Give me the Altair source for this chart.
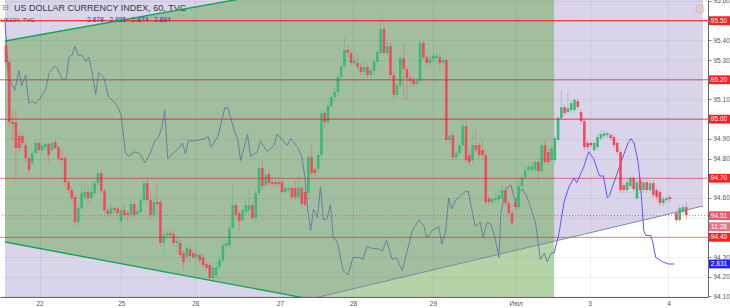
import altair as alt
import pandas as pd

# ---------------- data ----------------
# hourly DXY candles, bar index -> OHLC
OPEN = [95.376, 95.290, 94.985, 94.985, 94.914, 94.914, 94.868, 94.802, 94.777, 94.828,
        94.879, 94.843, 94.858, 94.874, 94.843, 94.884, 94.858, 94.802, 94.802, 94.680,
        94.640, 94.604, 94.477, 94.548, 94.604, 94.630, 94.599, 94.625, 94.675, 94.726,
        94.635, 94.538, 94.518, 94.548, 94.548, 94.482, 94.538, 94.523, 94.513, 94.569,
        94.518, 94.528, 94.589, 94.675, 94.589, 94.513, 94.579, 94.579, 94.371, 94.411,
        94.421, 94.416, 94.371, 94.371, 94.320, 94.299, 94.340, 94.320, 94.299, 94.310,
        94.299, 94.264, 94.259, 94.193, 94.208, 94.249, 94.284, 94.355, 94.360, 94.447,
        94.564, 94.523, 94.487, 94.528, 94.538, 94.564, 94.498, 94.625, 94.752, 94.665,
        94.721, 94.680, 94.680, 94.680, 94.680, 94.630, 94.640, 94.650, 94.650, 94.604,
        94.650, 94.630, 94.625, 94.807, 94.746, 94.746, 94.818, 95.031, 94.985, 95.067,
        95.112, 95.138, 95.214, 95.270, 95.351, 95.336, 95.285, 95.285, 95.265, 95.239,
        95.265, 95.224, 95.244, 95.290, 95.336, 95.458, 95.336, 95.371, 95.224, 95.122,
        95.173, 95.310, 95.254, 95.209, 95.199, 95.178, 95.194, 95.387, 95.315, 95.285,
        95.305, 95.310, 95.315, 95.285, 95.300, 94.894, 94.919, 94.807, 94.828, 94.868,
        94.965, 94.818, 94.792, 94.868, 94.868, 94.843, 94.818, 94.599, 94.579, 94.589,
        94.594, 94.599, 94.640, 94.574, 94.523, 94.579, 94.553, 94.660, 94.706, 94.741,
        94.741, 94.741, 94.782, 94.736, 94.868, 94.833, 94.792, 94.792, 94.894, 95.006,
        95.061, 95.036, 95.046, 95.046, 95.092, 95.036, 94.990, 94.879, 94.879, 94.843,
        94.858, 94.904, 94.914, 94.919, 94.919, 94.909, 94.879, 94.833, 94.665, 94.640,
        94.660, 94.701, 94.599, 94.691, 94.640, 94.680, 94.640, 94.675, 94.640, 94.630,
        94.574, 94.589, 94.604,
        94.523, 94.487, 94.528, 94.553]
HIGH = [95.402, 95.310, 95.046, 95.046, 94.934, 94.929, 94.889, 94.818, 94.843, 94.894,
        94.889, 94.879, 94.889, 94.884, 94.894, 94.899, 94.868, 94.843, 94.813, 94.691,
        94.660, 94.620, 94.564, 94.691, 94.680, 94.650, 94.686, 94.691, 94.741, 94.741,
        94.650, 94.553, 94.564, 94.559, 94.559, 94.553, 94.569, 94.538, 94.589, 94.584,
        94.559, 94.609, 94.691, 94.701, 94.640, 94.609, 94.675, 94.594, 94.437, 94.437,
        94.437, 94.432, 94.406, 94.386, 94.335, 94.366, 94.355, 94.335, 94.330, 94.325,
        94.315, 94.279, 94.274, 94.259, 94.274, 94.305, 94.376, 94.396, 94.462, 94.665,
        94.579, 94.538, 94.564, 94.589, 94.650, 94.579, 94.640, 94.767, 94.792, 94.731,
        94.741, 94.696, 94.691, 94.701, 94.691, 94.665, 94.665, 94.665, 94.691, 94.711,
        94.665, 94.650, 94.823, 94.868, 94.762, 94.833, 95.046, 95.046, 95.097, 95.127,
        95.158, 95.229, 95.290, 95.417, 95.376, 95.351, 95.315, 95.326, 95.285, 95.300,
        95.280, 95.265, 95.305, 95.356, 95.529, 95.503, 95.402, 95.387, 95.239, 95.188,
        95.326, 95.387, 95.270, 95.224, 95.214, 95.209, 95.402, 95.402, 95.331, 95.321,
        95.336, 95.336, 95.331, 95.315, 95.315, 94.934, 94.934, 94.843, 94.884, 95.006,
        95.006, 94.843, 94.945, 94.945, 94.884, 94.894, 94.843, 94.614, 94.609, 94.640,
        94.640, 94.665, 94.655, 94.589, 94.538, 94.599, 94.691, 94.721, 94.757, 94.777,
        94.777, 94.802, 94.802, 94.894, 94.894, 94.853, 94.868, 94.919, 95.021, 95.148,
        95.077, 95.138, 95.097, 95.107, 95.107, 95.051, 95.006, 94.894, 94.889, 94.894,
        94.924, 94.945, 94.945, 94.940, 94.934, 94.924, 94.894, 94.848, 94.680, 94.701,
        94.716, 94.716, 94.696, 94.711, 94.696, 94.701, 94.691, 94.691, 94.655, 94.645,
        94.609, 94.609, 94.614,
        94.538, 94.564, 94.569, 94.579]
LOW = [95.270, 94.965, 94.894, 94.691, 94.833, 94.858, 94.782, 94.716, 94.762, 94.818,
       94.828, 94.823, 94.843, 94.782, 94.833, 94.843, 94.782, 94.762, 94.660, 94.625,
       94.584, 94.462, 94.447, 94.538, 94.589, 94.564, 94.574, 94.609, 94.660, 94.620,
       94.523, 94.503, 94.508, 94.523, 94.508, 94.467, 94.498, 94.487, 94.503, 94.498,
       94.508, 94.518, 94.579, 94.574, 94.487, 94.498, 94.513, 94.355, 94.310, 94.386,
       94.396, 94.355, 94.325, 94.294, 94.233, 94.284, 94.274, 94.284, 94.284, 94.269,
       94.244, 94.228, 94.183, 94.178, 94.193, 94.233, 94.269, 94.335, 94.345, 94.432,
       94.487, 94.437, 94.482, 94.513, 94.523, 94.482, 94.477, 94.609, 94.640, 94.650,
       94.660, 94.655, 94.655, 94.660, 94.614, 94.620, 94.625, 94.589, 94.589, 94.589,
       94.548, 94.553, 94.589, 94.711, 94.711, 94.731, 94.802, 94.955, 94.970, 95.056,
       95.097, 95.122, 95.199, 95.254, 95.315, 95.270, 95.270, 95.249, 95.224, 95.224,
       95.209, 95.209, 95.229, 95.275, 95.321, 95.321, 95.321, 95.209, 95.097, 95.107,
       95.158, 95.097, 95.097, 95.178, 95.163, 95.168, 95.178, 95.300, 95.270, 95.270,
       95.290, 95.295, 95.249, 95.270, 94.879, 94.874, 94.792, 94.792, 94.813, 94.853,
       94.772, 94.762, 94.777, 94.828, 94.802, 94.792, 94.564, 94.564, 94.564, 94.569,
       94.574, 94.574, 94.559, 94.508, 94.457, 94.538, 94.538, 94.640, 94.691, 94.726,
       94.731, 94.726, 94.691, 94.721, 94.767, 94.767, 94.777, 94.777, 94.879, 94.990,
       95.016, 95.021, 95.031, 95.031, 95.046, 94.975, 94.843, 94.843, 94.853, 94.833,
       94.843, 94.889, 94.899, 94.904, 94.889, 94.853, 94.818, 94.625, 94.625, 94.625,
       94.645, 94.630, 94.584, 94.625, 94.625, 94.625, 94.625, 94.599, 94.589, 94.559,
       94.559, 94.574, 94.579,
       94.472, 94.477, 94.518, 94.492]
CLOSE = [95.290, 94.985, 94.975, 94.853, 94.853, 94.879, 94.802, 94.741, 94.828, 94.879,
         94.843, 94.868, 94.874, 94.818, 94.879, 94.853, 94.797, 94.792, 94.680, 94.640,
         94.599, 94.477, 94.548, 94.625, 94.630, 94.599, 94.630, 94.675, 94.726, 94.635,
         94.538, 94.518, 94.548, 94.538, 94.523, 94.538, 94.513, 94.513, 94.569, 94.513,
         94.533, 94.589, 94.675, 94.589, 94.513, 94.579, 94.569, 94.371, 94.411, 94.421,
         94.411, 94.371, 94.381, 94.310, 94.274, 94.345, 94.305, 94.299, 94.315, 94.284,
         94.259, 94.244, 94.193, 94.244, 94.249, 94.284, 94.360, 94.371, 94.447, 94.564,
         94.513, 94.482, 94.538, 94.564, 94.564, 94.498, 94.625, 94.752, 94.660, 94.716,
         94.675, 94.670, 94.670, 94.670, 94.630, 94.650, 94.650, 94.604, 94.604, 94.655,
         94.569, 94.564, 94.807, 94.726, 94.726, 94.818, 95.031, 94.985, 95.067, 95.112,
         95.138, 95.214, 95.270, 95.351, 95.336, 95.285, 95.295, 95.265, 95.239, 95.265,
         95.224, 95.249, 95.290, 95.341, 95.458, 95.336, 95.371, 95.224, 95.122, 95.173,
         95.310, 95.254, 95.209, 95.194, 95.178, 95.194, 95.387, 95.315, 95.285, 95.305,
         95.321, 95.321, 95.285, 95.300, 94.894, 94.914, 94.807, 94.828, 94.868, 94.965,
         94.792, 94.782, 94.868, 94.843, 94.818, 94.818, 94.579, 94.579, 94.594, 94.599,
         94.614, 94.640, 94.574, 94.523, 94.472, 94.553, 94.660, 94.706, 94.741, 94.757,
         94.762, 94.782, 94.736, 94.868, 94.782, 94.782, 94.853, 94.904, 95.006, 95.061,
         95.031, 95.056, 95.082, 95.097, 95.061, 94.990, 94.858, 94.858, 94.868, 94.879,
         94.909, 94.924, 94.929, 94.929, 94.904, 94.868, 94.833, 94.640, 94.640, 94.680,
         94.701, 94.645, 94.680, 94.640, 94.680, 94.640, 94.675, 94.614, 94.604, 94.574,
         94.594, 94.599, 94.594,
         94.487, 94.548, 94.553, 94.513]
BAR_T = list(range(203)) + [204, 205, 206, 207]

# US10Y overlay (bar position, yield)
T10 = [-0.3, 0.45, 0.7, 1.7, 2.7, 3.9, 4.8, 6.0, 6.9, 7.8,
       9.0, 10.2, 12.0, 13.2, 14.7, 15.6, 17.1, 18.3, 19.2, 20.1,
       21.0, 21.9, 23.1, 24.3, 25.2, 26.1, 27.3, 28.2, 29.7, 31.2,
       32.7, 34.2, 35.1, 36.3, 37.2, 39.3, 40.8, 42.3, 43.8, 45.3,
       46.5, 47.4, 48.3, 49.2, 50.7, 52.2, 53.7, 54.6, 55.5, 57.6,
       60.6, 61.5, 62.4, 64.5, 66.6, 67.5, 69.6, 70.5, 71.4, 73.5,
       74.4, 76.5, 77.4, 79.5, 81.6, 82.5, 83.7, 85.5, 86.7, 88.8,
       90.0, 90.9, 91.8, 92.7, 93.6, 94.8, 95.7, 96.6, 97.8, 98.7,
       99.6, 100.8, 102.6, 104.1, 105.6, 107.7, 108.6, 109.8, 111.6, 113.1,
       114.6, 115.8, 116.7, 117.6, 118.8, 120.6, 122.1, 123.6, 125.7, 127.2,
       128.1, 129.6, 131.7, 132.6, 133.8, 134.7, 135.6, 136.8, 138.3, 139.8,
       140.7, 141.6, 142.8, 144.3, 145.2, 146.4, 147.6, 148.8, 150.0, 150.6,
       152.1, 153.6, 155.1, 156.3, 157.2, 158.4, 159.6, 161.1, 162.6, 163.8,
       164.7, 165.9, 166.8, 168.3, 169.8, 171.3, 172.8, 173.7, 175.8, 177.3,
       178.8, 180.6, 181.8, 183.0, 183.6, 185.7, 187.8, 189.3, 190.2, 191.1,
       192.3, 193.2, 194.1, 194.7, 196.2, 196.8, 197.7, 199.8, 201.6, 203.4]
Y10 = [2.941, 2.924, 2.916, 2.913, 2.910, 2.919, 2.912, 2.917, 2.904, 2.905,
       2.904, 2.906, 2.910, 2.918, 2.921, 2.920, 2.915, 2.915, 2.925, 2.926,
       2.930, 2.926, 2.926, 2.923, 2.925, 2.919, 2.908, 2.918, 2.916, 2.907,
       2.905, 2.902, 2.898, 2.882, 2.880, 2.882, 2.881, 2.877, 2.881, 2.887,
       2.889, 2.893, 2.901, 2.879, 2.881, 2.883, 2.886, 2.881, 2.887, 2.887,
       2.888, 2.889, 2.884, 2.889, 2.902, 2.902, 2.891, 2.888, 2.878, 2.890,
       2.880, 2.882, 2.887, 2.882, 2.885, 2.890, 2.888, 2.885, 2.888, 2.884,
       2.880, 2.871, 2.856, 2.846, 2.856, 2.852, 2.866, 2.851, 2.852, 2.858,
       2.843, 2.841, 2.828, 2.826, 2.834, 2.834, 2.833, 2.839, 2.838, 2.838,
       2.837, 2.842, 2.837, 2.833, 2.834, 2.828, 2.837, 2.846, 2.851, 2.848,
       2.843, 2.846, 2.848, 2.840, 2.846, 2.861, 2.856, 2.860, 2.862, 2.864,
       2.864, 2.857, 2.848, 2.850, 2.843, 2.850, 2.849, 2.843, 2.834, 2.854,
       2.865, 2.867, 2.859, 2.864, 2.865, 2.862, 2.857, 2.850, 2.833, 2.836,
       2.832, 2.836, 2.836, 2.845, 2.859, 2.866, 2.870, 2.868, 2.875, 2.882,
       2.879, 2.871, 2.871, 2.861, 2.862, 2.871, 2.880, 2.886, 2.888, 2.886,
       2.878, 2.865, 2.846, 2.844, 2.844, 2.841, 2.834, 2.832, 2.831, 2.831]

DAY_T = [10.2, 35.1, 57.6, 83.4, 105.6, 129.9, 155.1, 177.6, 201.6]
DAY_LABELS = ["22", "25", "26", "27", "28", "29", "Июл", "3", "4"]
PRICE_TICKS = [94.10, 94.20, 94.30, 94.40, 94.50, 94.60, 94.70, 94.80,
               94.90, 95.00, 95.10, 95.20, 95.30, 95.40, 95.50, 95.60]

LEVELS = [95.50, 95.20, 95.00, 94.70, 94.40]
LEVEL_LABELS = ["95.50", "95.20", "95.00", "94.70", "94.40"]
LAST_PRICE = 94.51
LAST_LABEL = "94.51"
COUNTDOWN = "11:28"
LAST_YIELD = 2.831
LAST_YIELD_LABEL = "2.831"
COVERED_TICKS = [95.5, 95.2, 95.0, 94.7, 94.5, 94.4]   # axis labels hidden under tag boxes

# drawn channel (green zone) and rising trend line
ZONE_T = [-0.3, 166.8]
ZONE_TOP = [95.397, 95.895]
ZONE_BOTTOM = [94.376, 93.856]
RISE_T = [-0.3, 212.1]
RISE_P = [93.72, 94.559]

TITLE = "US DOLLAR CURRENCY INDEX, 60, TVC"
SUBTITLE = "US10Y, TVC"
OHLC_10Y = ["2.878", "2.885", "2.874", "2.884"]

# ---------------- chart ----------------
FONT = "Liberation Sans"
W, H = 708, 297

candles = pd.DataFrame({"t": BAR_T, "open": OPEN, "high": HIGH, "low": LOW, "close": CLOSE})
candles["dir"] = ["up" if c >= o else "down" for o, c in zip(OPEN, CLOSE)]
ten = pd.DataFrame({"t": T10, "v": Y10})
zone = pd.DataFrame({"t": ZONE_T, "top": ZONE_TOP, "bottom": ZONE_BOTTOM})
rise = pd.DataFrame({"t": RISE_T, "p": RISE_P})
levels = pd.DataFrame({"p": LEVELS, "lab": LEVEL_LABELS})

XS = alt.Scale(domain=[-0.3, 212.1], nice=False, zero=False)
PS = alt.Scale(domain=[94.097, 95.605], nice=False, zero=False)
YS = alt.Scale(domain=[2.816, 2.951], nice=False, zero=False)

label_arr = "[" + ",".join("'%s'" % s for s in DAY_LABELS) + "]"
val_arr = "[" + ",".join(str(v) for v in DAY_T) + "]"
cov_arr = "[" + ",".join(str(v) for v in COVERED_TICKS) + "]"
x_axis = alt.Axis(values=DAY_T, labelExpr=f"{label_arr}[indexof({val_arr}, datum.value)]",
                  grid=True, gridColor="#000000", gridOpacity=0.06, ticks=False,
                  domainColor="#666666", labelFontSize=6.5, labelColor="#555555",
                  labelFont=FONT, labelPadding=3, title=None, zindex=1,
                  labelFontWeight={"expr": "datum.label == 'Июл' ? 'bold' : 'normal'"})
y_axis = alt.Axis(orient="right", values=PRICE_TICKS, grid=True,
                  labelExpr=f"indexof({cov_arr}, round(datum.value*100)/100) >= 0 ? '' : format(datum.value, '.2f')",
                  gridColor="#000000", gridOpacity=0.05, tickSize=3, tickColor="#888888",
                  domainColor="#666666", labelFontSize=6.5, labelColor="#555555",
                  labelFont=FONT, labelPadding=2, title=None, zindex=1, labelOverlap=False)

X = alt.X("t:Q", scale=XS, axis=x_axis)
CS = alt.Scale(domain=["up", "down"], range=["#3cba76", "#ee4d5c"])

purple = alt.Chart(rise).mark_area(color="#d9d4ea", clip=True).encode(
    x=X, y=alt.Y("p:Q", scale=PS, axis=None), y2=alt.datum(95.9))

ten_line = alt.Chart(ten).mark_line(color="#5b5bf0", strokeWidth=1, clip=True).encode(
    x=X, y=alt.Y("v:Q", scale=YS, axis=None))

green = alt.Chart(zone).mark_area(color="rgb(105,169,81)", opacity=0.5, clip=True).encode(
    x=X, y=alt.Y("top:Q", scale=PS, axis=None), y2="bottom:Q")

wicks = alt.Chart(candles).mark_rule(strokeWidth=1, opacity=0.4).encode(
    x=X, y=alt.Y("high:Q", scale=PS, axis=None), y2="low:Q",
    color=alt.Color("dir:N", scale=CS, legend=None))

bodies = alt.Chart(candles).mark_bar(size=2.6).encode(
    x=X, y=alt.Y("open:Q", scale=PS, axis=y_axis), y2="close:Q",
    color=alt.Color("dir:N", scale=CS, legend=None))

level_rules = alt.Chart(levels).mark_rule(color="#f51f2a", strokeWidth=1.2).encode(
    y=alt.Y("p:Q", scale=PS, axis=None),
    opacity=alt.Opacity("lab:N", scale=alt.Scale(domain=LEVEL_LABELS,
                                                   range=[0.85, 0.45, 0.35, 0.8, 0.9]),
                        legend=None))

last_rule = alt.Chart(pd.DataFrame({"p": [LAST_PRICE]})).mark_rule(
    color="#e0405a", strokeDash=[1, 2], opacity=0.8).encode(y=alt.Y("p:Q", scale=PS, axis=None))

upper_line = alt.Chart(zone).mark_line(color="#16a35c", strokeWidth=1.4, clip=True).encode(
    x=X, y=alt.Y("top:Q", scale=PS, axis=None))
lower_line = alt.Chart(zone).mark_line(color="#16a35c", strokeWidth=1.4, clip=True).encode(
    x=X, y=alt.Y("bottom:Q", scale=PS, axis=None))
rise_line = alt.Chart(rise).mark_line(color="#8a82b2", strokeWidth=1, clip=True).encode(
    x=X, y=alt.Y("p:Q", scale=PS, axis=None))

BOX = "M-1,-0.4L1,-0.4L1,0.4L-1,0.4Z"
BX = 719
lvl_boxes = alt.Chart(levels).mark_point(shape=BOX, size=484, filled=True, opacity=1,
                                         color="#ff1f1f", strokeWidth=0).encode(
    x=alt.value(BX), y=alt.Y("p:Q", scale=PS, axis=None))
lvl_text = alt.Chart(levels).mark_text(color="white", fontSize=6.5, font=FONT,
                                       baseline="middle").encode(
    x=alt.value(BX), y=alt.Y("p:Q", scale=PS, axis=None), text="lab:N")

last_df = pd.DataFrame({"p": [LAST_PRICE], "lab": [LAST_LABEL], "cd": [COUNTDOWN]})
last_box = alt.Chart(last_df).mark_point(shape=BOX, size=484, filled=True, opacity=1,
                                         color="#e9596b", strokeWidth=0).encode(
    x=alt.value(BX), y=alt.Y("p:Q", scale=PS, axis=None))
last_text = alt.Chart(last_df).mark_text(color="white", fontSize=6.5, font=FONT,
                                         baseline="middle").encode(
    x=alt.value(BX), y=alt.Y("p:Q", scale=PS, axis=None), text="lab:N")
cd_box = alt.Chart(last_df).mark_point(shape=BOX, size=484, filled=True, opacity=1,
                                       color="#eb7381", strokeWidth=0, yOffset=11).encode(
    x=alt.value(BX), y=alt.Y("p:Q", scale=PS, axis=None))
cd_text = alt.Chart(last_df).mark_text(color="white", fontSize=6.5, font=FONT,
                                       baseline="middle", yOffset=11).encode(
    x=alt.value(BX), y=alt.Y("p:Q", scale=PS, axis=None), text="cd:N")

yld_df = pd.DataFrame({"v": [LAST_YIELD], "lab": [LAST_YIELD_LABEL]})
yld_box = alt.Chart(yld_df).mark_point(shape=BOX, size=484, filled=True, opacity=1,
                                       color="#2424f0", strokeWidth=0).encode(
    x=alt.value(BX), y=alt.Y("v:Q", scale=YS, axis=None))
yld_text = alt.Chart(yld_df).mark_text(color="white", fontSize=6.5, font=FONT,
                                       baseline="middle").encode(
    x=alt.value(BX), y=alt.Y("v:Q", scale=YS, axis=None), text="lab:N")

SEP = "\u00a0\u00a0\u00a0"
head_df = pd.DataFrame({"title": [TITLE], "sub": [SUBTITLE], "vals": [SEP.join(OHLC_10Y)]})
title_txt = alt.Chart(head_df).mark_text(align="left", baseline="middle", fontSize=9,
                                         font=FONT, color="#3a3a3a").encode(
    x=alt.value(14), y=alt.value(8), text="title:N")
icon_txt = alt.Chart(pd.DataFrame({"s": ["⊟"]})).mark_text(
    align="left", baseline="middle", fontSize=8, font="DejaVu Sans", color="#777777").encode(
    x=alt.value(2), y=alt.value(8), text="s:N")
sub_txt = alt.Chart(head_df).mark_text(align="left", baseline="middle", fontSize=6,
                                       font=FONT, color="#444444").encode(
    x=alt.value(1), y=alt.value(20), text="sub:N")
vals_txt = alt.Chart(head_df).mark_text(align="left", baseline="middle", fontSize=6.7,
                                        font=FONT, color="#2a2af0").encode(
    x=alt.value(87), y=alt.value(20), text="vals:N")
warn_circle = alt.Chart(pd.DataFrame({"s": ["!"]})).mark_point(
    shape="circle", size=64, filled=False, color="#f0a060", strokeWidth=1).encode(
    x=alt.value(700), y=alt.value(9))
warn_txt = alt.Chart(pd.DataFrame({"s": ["!"]})).mark_text(
    fontSize=6, font=FONT, color="#f0a060", baseline="middle").encode(
    x=alt.value(700), y=alt.value(9), text="s:N")

chart = alt.layer(
    purple, ten_line, green, wicks, bodies, title_txt, icon_txt, sub_txt, vals_txt,
    level_rules, last_rule, upper_line, lower_line, rise_line,
    lvl_boxes, lvl_text, last_box, last_text, cd_box, cd_text, yld_box, yld_text,
    warn_circle, warn_txt,
).resolve_scale(y="independent", opacity="independent").properties(
    width=W, height=H,
    autosize=alt.AutoSizeParams(type="none"),
    padding={"left": 0, "top": 0, "right": 22, "bottom": 11},
    background="white",
).configure_view(strokeWidth=0)

chart.save("out.html", embed_options={"renderer": "svg", "actions": False})
